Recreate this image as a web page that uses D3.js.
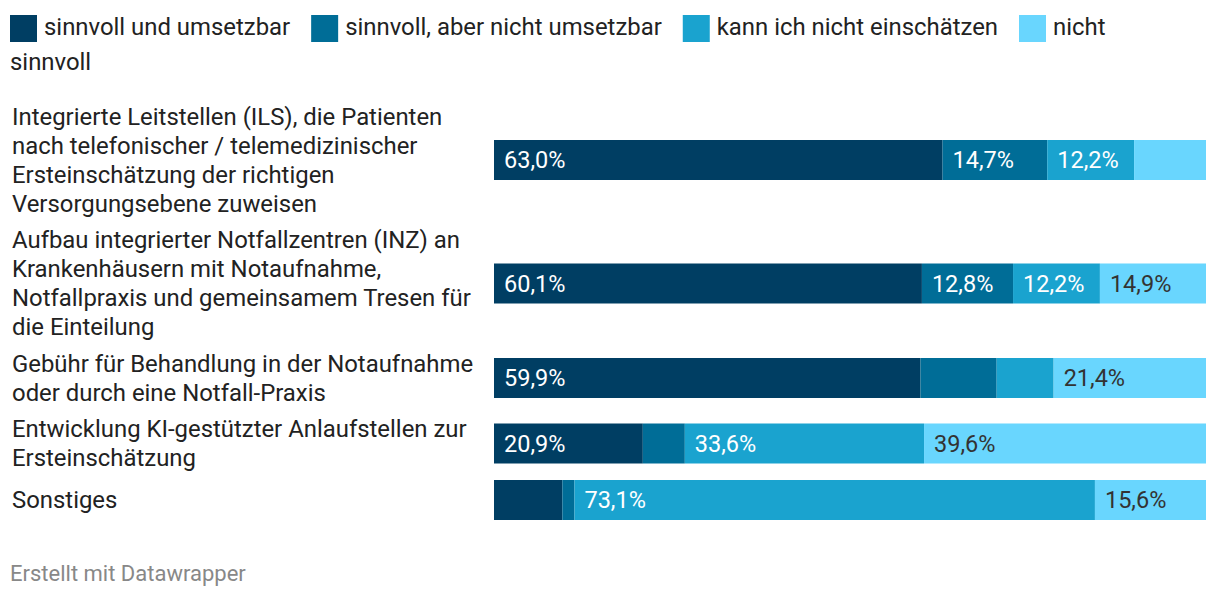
<!DOCTYPE html>
<html>
<head>
<meta charset="utf-8">
<script src="https://cdn.jsdelivr.net/npm/d3@7"></script>
<style>
  html, body { margin: 0; padding: 0; background: #fff; }
  svg { display: block; font-family: Roboto, "Noto Sans", sans-serif; }
</style>
</head>
<body>
<svg id="chart" width="1220" height="598"></svg>
<script>
// ---- data ----
const categories = [
  "Integrierte Leitstellen (ILS), die Patienten\nnach telefonischer / telemedizinischer\nErsteinschätzung der richtigen\nVersorgungsebene zuweisen",
  "Aufbau integrierter Notfallzentren (INZ) an\nKrankenhäusern mit Notaufnahme,\nNotfallpraxis und gemeinsamem Tresen für\ndie Einteilung",
  "Gebühr für Behandlung in der Notaufnahme\noder durch eine Notfall-Praxis",
  "Entwicklung KI-gestützter Anlaufstellen zur\nErsteinschätzung",
  "Sonstiges"
];
const seriesNames = ["sinnvoll und umsetzbar", "sinnvoll, aber nicht umsetzbar", "kann ich nicht einschätzen", "nicht sinnvoll"];
const sinnvollUmsetzbar      = [63.0, 60.1, 59.9, 20.9, 9.6];
const sinnvollNichtUmsetzbar = [14.7, 12.8, 10.7, 5.9, 1.7];
const nichtEinschaetzbar     = [12.2, 12.2, 8.0, 33.6, 73.1];
const nichtSinnvoll          = [10.1, 14.9, 21.4, 39.6, 15.6];
const colors = ["#003e63", "#006d97", "#1aa3cf", "#69d6fe"];
const footer = "Erstellt mit Datawrapper";

// ---- layout ----
const svg = d3.select("#chart");
const W = 1220;
const barLeft = 494, barRight = 1206, barH = 40;
const lineH = 29, rowGap = 7.5, firstTop = 102;
const labelFont = 23.9, legendFont = 23.9, valueFont = 23.5, footerFont = 22;
const seriesArrays = [sinnvollUmsetzbar, sinnvollNichtUmsetzbar, nichtEinschaetzbar, nichtSinnvoll];

const rows = categories.map((c, i) => {
  const lines = c.split("\n");
  const vals = seriesArrays.map(a => a[i]);
  return { name: c, lines, vals };
});
let rowTop = firstTop;
rows.forEach(r => {
  const h = Math.max(r.lines.length * lineH, barH);
  r.center = rowTop + h / 2;
  rowTop += h + rowGap;
});

const x = d3.scaleLinear().domain([0, 100]).range([barLeft, barRight]);
const y = d3.scaleOrdinal().domain(categories).range(rows.map(r => r.center));

// ---- legend ----
const legend = svg.append("g");
let lx = 10, ly = 27;
seriesNames.forEach((name, i) => {
  legend.append("rect").attr("x", lx).attr("y", 15).attr("width", 27).attr("height", 27).attr("fill", colors[i]);
  lx += 34;
  const words = name.split(" ");
  let t = legend.append("text").attr("x", lx).attr("y", ly).attr("dy", "0.35em")
    .attr("font-size", legendFont).attr("fill", "#222");
  let cur = "";
  words.forEach(w => {
    const test = cur ? cur + " " + w : w;
    t.text(test);
    if (lx + t.node().getComputedTextLength() > W - 40 && cur) {
      t.text(cur);
      ly += 35;
      lx = 10;
      t = legend.append("text").attr("x", lx).attr("y", ly).attr("dy", "0.35em")
        .attr("font-size", legendFont).attr("fill", "#222").text(w);
      cur = w;
    } else {
      cur = test;
    }
  });
  lx += t.node().getComputedTextLength() + 21;
});

// ---- row labels ----
const labelG = svg.append("g");
rows.forEach(r => {
  const n = r.lines.length;
  r.lines.forEach((ln, j) => {
    labelG.append("text")
      .attr("x", 12)
      .attr("y", y(r.name) + (j - (n - 1) / 2) * lineH)
      .attr("dy", "0.35em")
      .attr("font-size", labelFont)
      .attr("fill", "#222")
      .text(ln);
  });
});

// ---- bars ----
const stack = d3.stack().keys([0, 1, 2, 3]).value((d, k) => d.vals[k]);
const stacked = stack(rows);
const fmt = v => v.toFixed(1).replace(".", ",") + "%";

stacked.forEach((layer, k) => {
  const g = svg.append("g");
  g.selectAll("rect").data(layer).join("rect")
    .attr("x", d => x(d[0]))
    .attr("y", d => y(d.data.name) - barH / 2)
    .attr("width", d => x(d[1]) - x(d[0]))
    .attr("height", barH)
    .attr("fill", colors[k]);
  g.selectAll("text").data(layer.filter(d => d.data.vals[k] >= 12)).join("text")
    .attr("x", d => x(d[0]) + 10)
    .attr("y", d => y(d.data.name))
    .attr("dy", "0.35em")
    .attr("font-size", valueFont)
    .attr("fill", k === 3 ? "#333" : "#fff")
    .text(d => fmt(d.data.vals[k]));
});

// ---- footer ----
svg.append("text").attr("x", 10).attr("y", 573).attr("dy", "0.35em")
  .attr("font-size", footerFont).attr("fill", "#888").text(footer);
</script>
</body>
</html>
